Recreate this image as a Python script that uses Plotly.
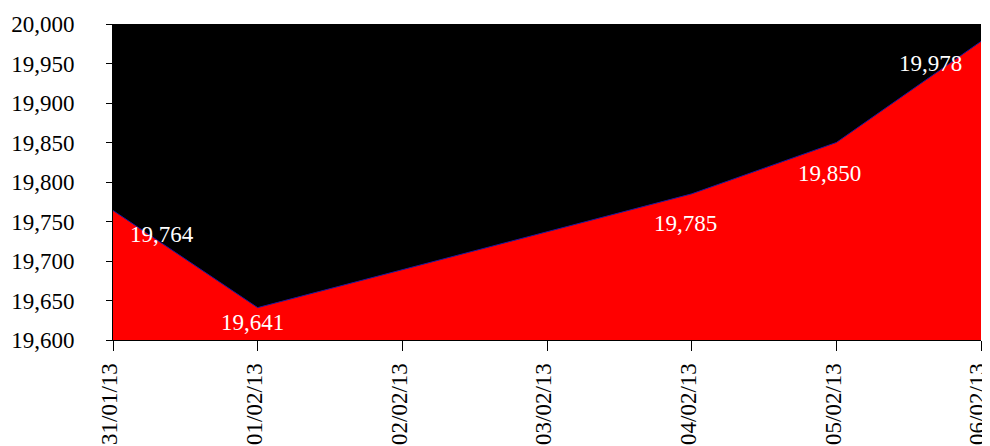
import plotly.graph_objects as go

dates = ["2013-01-31", "2013-02-01", "2013-02-04", "2013-02-05", "2013-02-06"]
values = [19764, 19641, 19785, 19850, 19978]
y_ticks = [19600, 19650, 19700, 19750, 19800, 19850, 19900, 19950, 20000]

# label offsets (pixels) for each data label
label_dx = [49, -5, -6, -7, -51]
label_dy = [-24, -15, -30, -31, -22]

font_family = "Liberation Serif, Times New Roman, serif"

fig = go.Figure()
fig.add_trace(go.Scatter(
    x=dates, y=values, mode="lines", fill="tozeroy",
    fillcolor="#ff0000", line=dict(color="#1a1a9e", width=1),
    hoverinfo="skip", showlegend=False,
))

for d, v, dx, dy in zip(dates, values, label_dx, label_dy):
    fig.add_annotation(x=d, y=v, text=f"{v:,}", showarrow=False,
                       xshift=dx, yshift=dy,
                       font=dict(family=font_family, size=23, color="white"))

# page body has an 8px margin, so the figure is offset by 8px
fig.update_layout(
    width=982, height=438,
    margin=dict(l=105, r=9, t=16, b=106),
    paper_bgcolor="white", plot_bgcolor="black",
    showlegend=False,
)
fig.update_xaxes(
    type="date", range=["2013-01-31", "2013-02-06"],
    dtick=86400000, tick0="2013-01-31", tickformat="%d/%m/%y",
    tickangle=-90, ticks="outside", ticklen=10, tickcolor="black",
    showline=True, linecolor="black", linewidth=1, showgrid=False,
    zeroline=False, ticklabelstandoff=3, ticklabelshift=-3,
    automargin=False, ticklabeloverflow="allow",
    tickfont=dict(family=font_family, size=23, color="black"),
)
fig.update_yaxes(
    range=[19600, 20000], tickvals=y_ticks,
    ticktext=[f"{t:,}" for t in y_ticks],
    ticks="outside", ticklen=6, tickcolor="black",
    showline=True, linecolor="black", linewidth=1, showgrid=False,
    zeroline=False, ticklabelstandoff=27, automargin=False,
    ticklabeloverflow="allow",
    tickfont=dict(family=font_family, size=23, color="black"),
)

fig.write_html("out.html")
